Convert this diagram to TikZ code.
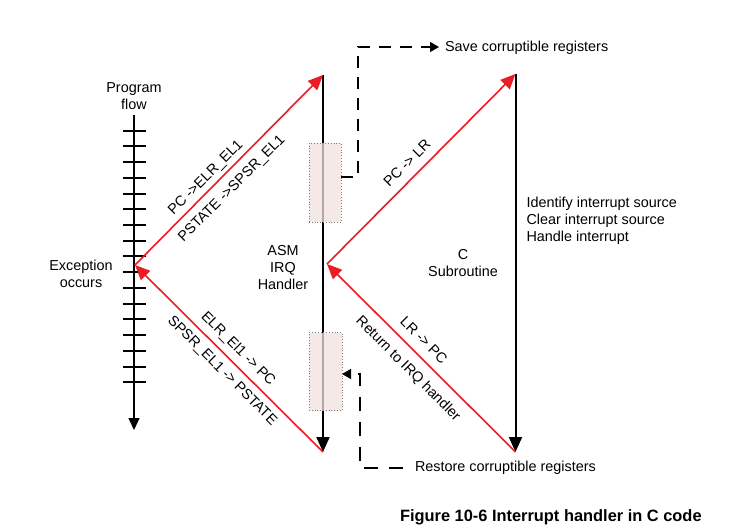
\documentclass[tikz,border=0pt]{standalone}
\usepackage{fontspec}
\setmainfont{Liberation Sans}
\usetikzlibrary{arrows.meta}
\definecolor{redline}{RGB}{237,28,36}
\definecolor{pinkbox}{RGB}{242,225,224}
\begin{document}
\begin{tikzpicture}[x=1pt,y=-1pt,
  every node/.style={font=\fontsize{14.4}{17}\selectfont, inner sep=0pt, outer sep=0pt},
  redarrow/.style={draw=redline, line width=1.6pt, -{Triangle[length=15pt,width=13pt]}},
  blackarrow/.style={draw=black, line width=2pt, -{Triangle[length=15pt,width=13pt]}},
  axisarrow/.style={draw=black, line width=1.3pt, -{Triangle[length=12pt,width=11pt]}},
  tickline/.style={draw=black, line width=2pt},
  dashconn/.style={draw=black, line width=1.6pt, dash pattern=on 12pt off 9pt, -{Triangle[length=9pt,width=10pt]}},
  regbox/.style={draw=gray, dotted, line width=0.8pt, fill=pinkbox, fill opacity=0.75, minimum width=32pt, minimum height=79pt},
  lbl/.style={align=center},
]
\useasboundingbox (0,0) rectangle (745,531);

% key points
\coordinate (axtop) at (134,115);
\coordinate (axbot) at (134,430);
\coordinate (E) at (135,265);
\coordinate (Atop) at (323,75);
\coordinate (Abot) at (323,452);
\coordinate (M) at (327,264);
\coordinate (Ctop) at (515.5,74);
\coordinate (Cbot) at (515.5,452);

% program flow axis
\draw[axisarrow] (axtop) -- (axbot);
\foreach \i in {0,...,16}{
  \pgfmathsetmacro\ty{130.7+15.72*\i}
  \draw[tickline] (123,\ty) -- (146,\ty);
}

% vertical handler lines
\draw[blackarrow] (Atop) -- (Abot);
\draw[blackarrow] (Ctop) -- (Cbot);

% register boxes
\node[regbox] (box1) at (325,182.5) {};
\node[regbox, minimum height=78pt, minimum width=33pt] (box2) at (325.5,371.5) {};

% red flow
\draw[redarrow] (E) -- (Atop);
\draw[redarrow] (Abot) -- (E);
\draw[redarrow] (M) -- (Ctop);
\draw[redarrow] (Cbot) -- (M);

% texts
\node[lbl] (prog) at (134,96.5) {Program\\flow};
\node[lbl] (exc) at (81,273.5) {Exception\\occurs};
\node[lbl] (asm) at (283,267.5) {ASM\\IRQ\\Handler};
\node[lbl] (csub) at (463,263.3) {C\\Subroutine};
\node[align=left, anchor=west] (ident) at (526.5,221) {Identify interrupt source\\Clear interrupt source\\Handle interrupt};
\node[anchor=base west] (save) at (445,51.7) {Save corruptible registers};
\node[anchor=base west] (restore) at (415,471.7) {Restore corruptible registers};
\node[anchor=base west, font=\fontsize{16.4}{20}\selectfont\bfseries] (caption) at (400,521.7) {Figure 10-6 Interrupt handler in C code};

% rotated labels
\node[rotate=45] (l1) at (206,178) {PC ->ELR\_EL1};
\node[rotate=45] (l2) at (232,189) {PSTATE ->SPSR\_EL1};
\node[rotate=-45] (l3) at (238,349) {ELR\_El1 -> PC};
\node[rotate=-45] (l4) at (222,371) {SPSR\_EL1 -> PSTATE};
\node[rotate=45] (l5) at (407,163) {PC -> LR};
\node[rotate=-45] (l6) at (424,340) {LR -> PC};
\node[rotate=-45] (l7) at (408,369) {Return to IRQ handler};

% dashed connectors
\coordinate (s0) at (341,177);
\coordinate (s1) at (358,47);
\coordinate (s2) at (439,47);
\draw[dashconn] (s0) -| (s1) -- (s2);
\coordinate (r0) at (403,468);
\coordinate (r1) at (360,374);
\coordinate (r2) at (342,374);
\draw[dashconn, dash pattern=on 14pt off 11pt] (r0) -| (r1) -- (r2);
\end{tikzpicture}
\end{document}
